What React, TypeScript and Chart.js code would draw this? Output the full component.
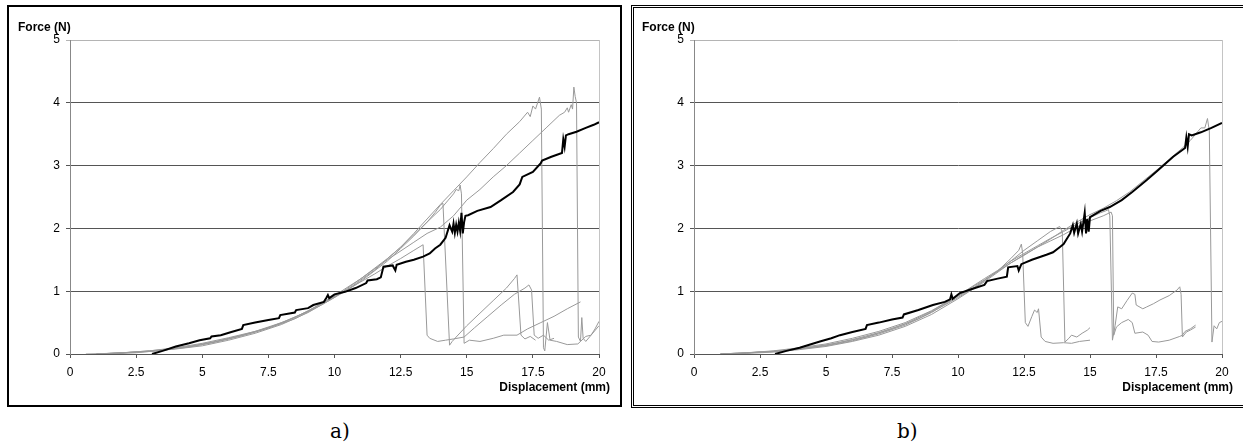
import React, { useEffect, useRef } from 'react';
import { Chart, registerables } from 'chart.js';

Chart.register(...registerables);

type Pt = [number, number];

// ---------- axis definitions ----------
const xMin = 0;
const xMax = 20;
const xStep = 2.5;
const yMin = 0;
const yMax = 5;
const yStep = 1;
const xTitle = 'Displacement (mm)';
const yTitle = 'Force (N)';

// ---------- panel a) ----------
const aBlack: Pt[] = [
  [3.1, 0], [3.5, 0.05], [4.0, 0.12], [4.5, 0.17], [4.9, 0.22], [5.3, 0.25], [5.35, 0.28], [5.7, 0.3],
  [6.1, 0.35], [6.5, 0.4], [6.55, 0.46], [7.0, 0.5], [7.5, 0.54], [7.9, 0.57], [7.95, 0.62], [8.5, 0.66],
  [8.55, 0.7], [9.0, 0.73], [9.2, 0.78], [9.6, 0.83], [9.7, 0.9], [9.75, 0.94], [9.8, 0.89], [10.0, 0.95],
  [10.4, 0.99], [10.8, 1.05], [11.2, 1.13], [11.25, 1.17], [11.6, 1.19], [11.75, 1.22], [11.85, 1.39],
  [12.2, 1.41], [12.3, 1.33], [12.35, 1.42], [12.7, 1.47], [13.0, 1.5], [13.35, 1.55], [13.6, 1.6],
  [13.8, 1.68], [14.0, 1.74], [14.2, 1.85], [14.35, 2.05], [14.45, 1.95], [14.5, 2.08], [14.55, 1.93],
  [14.6, 2.06], [14.65, 1.95], [14.7, 2.09], [14.75, 1.96], [14.8, 2.25], [14.85, 1.92], [14.9, 2.1],
  [14.95, 2.2], [15.05, 2.21], [15.4, 2.28], [15.9, 2.34], [16.3, 2.45], [16.75, 2.58], [17.0, 2.7],
  [17.1, 2.82], [17.5, 2.9], [17.8, 3.04], [17.85, 3.08], [18.2, 3.14], [18.6, 3.2], [18.65, 3.42],
  [18.7, 3.3], [18.75, 3.48], [18.85, 3.5], [19.15, 3.54], [19.5, 3.6], [19.8, 3.65], [20.0, 3.69],
];

const aGray1: Pt[] = [
  [1.0, 0], [2.0, 0.02], [3.0, 0.05], [4.0, 0.1], [5.0, 0.17], [6.0, 0.26], [7.0, 0.36], [8.0, 0.5],
  [9.0, 0.68], [10.0, 0.92], [10.5, 1.03], [11.0, 1.15], [11.5, 1.27], [12.0, 1.4], [12.5, 1.52],
  [13.0, 1.65], [13.35, 1.74], [13.5, 0.3], [13.6, 0.25], [13.9, 0.2], [14.2, 0.22], [14.5, 0.24],
  [14.9, 0.27], [15.3, 0.42], [15.8, 0.6], [16.3, 0.78], [16.8, 0.95], [17.2, 1.05], [17.35, 1.1],
  [17.45, 1.02], [17.55, 0.3], [17.7, 0.25], [17.9, 0.3], [18.1, 0.22], [18.3, 0.25],
];

const aGray2: Pt[] = [
  [1.5, 0], [2.5, 0.02], [3.5, 0.06], [4.5, 0.11], [5.5, 0.19], [6.5, 0.29], [7.5, 0.41], [8.5, 0.56],
  [9.5, 0.78], [10.5, 1.02], [11.0, 1.16], [11.5, 1.32], [12.0, 1.48], [12.5, 1.68], [13.0, 1.88],
  [13.5, 2.1], [13.8, 2.25], [14.0, 2.37], [14.1, 2.4], [14.35, 0.14], [14.45, 0.2], [14.6, 0.27],
  [15.0, 0.45], [15.5, 0.65], [16.0, 0.85], [16.5, 1.05], [16.8, 1.2], [16.9, 1.26], [17.05, 0.3],
  [17.2, 0.24], [17.4, 0.28], [17.6, 0.22],
];

const aGray3: Pt[] = [
  [1.0, 0], [2.0, 0.02], [3.0, 0.04], [4.0, 0.08], [5.0, 0.13], [6.0, 0.22], [7.0, 0.33], [8.0, 0.47],
  [9.0, 0.66], [10.0, 0.9], [11.0, 1.2], [12.0, 1.52], [12.5, 1.7], [13.0, 1.9], [13.5, 2.1],
  [14.0, 2.3], [14.3, 2.45], [14.5, 2.55], [14.6, 2.62], [14.7, 2.6], [14.75, 2.69], [14.8, 2.55],
  [14.9, 0.17], [15.1, 0.22], [15.5, 0.2], [16.0, 0.25], [16.4, 0.3], [16.9, 0.3], [17.3, 0.4],
  [17.8, 0.5], [18.3, 0.6], [18.8, 0.72], [19.3, 0.83],
];

const aGray4: Pt[] = [
  [0.6, 0], [1.5, 0.01], [2.5, 0.03], [3.5, 0.06], [4.5, 0.12], [5.5, 0.2], [6.5, 0.3], [7.5, 0.42],
  [8.5, 0.58], [9.5, 0.8], [10.5, 1.03], [11.5, 1.33], [12.5, 1.7], [13.0, 1.92], [13.5, 2.15],
  [14.0, 2.38], [14.5, 2.6], [15.0, 2.82], [15.5, 3.05], [16.0, 3.27], [16.5, 3.5], [17.0, 3.7],
  [17.3, 3.85], [17.4, 3.78], [17.5, 3.95], [17.6, 3.9], [17.75, 4.09], [17.82, 3.9], [17.9, 0.1],
  [17.95, 0.05], [18.05, 0.5], [18.15, 0.22], [18.4, 0.2], [18.8, 0.15], [19.2, 0.16], [19.3, 0.2],
  [19.35, 0.58], [19.4, 0.25], [19.5, 0.2], [19.8, 0.35], [20.0, 0.45],
];

const aGray5: Pt[] = [
  [1.0, 0], [2.0, 0.02], [3.0, 0.05], [4.0, 0.09], [5.0, 0.15], [6.0, 0.24], [7.0, 0.35], [8.0, 0.49],
  [9.0, 0.68], [10.0, 0.93], [11.0, 1.2], [12.0, 1.5], [13.0, 1.78], [13.5, 1.92], [14.0, 2.02],
  [14.5, 2.2], [15.0, 2.45], [15.5, 2.62], [16.0, 2.82], [16.5, 3.0], [17.0, 3.2], [17.5, 3.4],
  [18.0, 3.6], [18.5, 3.8], [18.7, 3.85], [18.8, 3.92], [18.85, 3.85], [18.95, 3.97], [19.0, 3.9],
  [19.05, 4.25], [19.1, 4.1], [19.15, 4.0], [19.22, 0.27], [19.3, 0.2], [19.5, 0.28], [19.7, 0.3],
  [19.85, 0.4], [20.0, 0.52],
];

// ---------- panel b) ----------
const bBlack: Pt[] = [
  [3.07, 0], [3.5, 0.05], [4.0, 0.1], [4.4, 0.15], [4.77, 0.2], [5.2, 0.25], [5.53, 0.3], [6.0, 0.35],
  [6.5, 0.4], [6.55, 0.46], [7.0, 0.5], [7.5, 0.55], [7.9, 0.58], [7.95, 0.63], [8.5, 0.7], [9.05, 0.78],
  [9.5, 0.83], [9.7, 0.87], [9.75, 0.95], [9.8, 0.88], [10.07, 0.97], [10.5, 1.03], [11.0, 1.1],
  [11.1, 1.16], [11.5, 1.2], [11.85, 1.23], [11.9, 1.38], [12.25, 1.4], [12.3, 1.33], [12.4, 1.43],
  [12.8, 1.5], [13.35, 1.58], [13.6, 1.62], [13.85, 1.7], [14.0, 1.75], [14.25, 1.92], [14.35, 2.05],
  [14.4, 1.93], [14.5, 2.08], [14.55, 1.92], [14.65, 2.07], [14.7, 1.95], [14.8, 2.25], [14.85, 1.92],
  [14.9, 2.15], [14.95, 1.95], [15.0, 2.18], [15.4, 2.28], [15.75, 2.34], [16.2, 2.45], [16.6, 2.58],
  [17.15, 2.77], [17.5, 2.9], [17.8, 3.01], [18.15, 3.14], [18.6, 3.28], [18.65, 3.45], [18.7, 3.3],
  [18.75, 3.5], [18.85, 3.48], [19.2, 3.53], [19.6, 3.6], [20.0, 3.68],
];

const bGray1: Pt[] = [
  [1.0, 0], [2.0, 0.02], [3.0, 0.04], [4.0, 0.08], [5.0, 0.13], [6.0, 0.21], [7.0, 0.32], [8.0, 0.46],
  [9.0, 0.66], [10.0, 0.92], [10.5, 1.03], [11.0, 1.17], [11.5, 1.32], [12.0, 1.52], [12.3, 1.65],
  [12.4, 1.75], [12.45, 1.6], [12.55, 0.5], [12.65, 0.44], [12.8, 0.6], [12.9, 0.7], [13.0, 0.66],
  [13.05, 0.72], [13.15, 0.27], [13.3, 0.2], [13.6, 0.17], [14.0, 0.18], [14.3, 0.17], [14.6, 0.2],
  [15.0, 0.22],
];

const bGray2: Pt[] = [
  [1.0, 0], [2.0, 0.02], [3.0, 0.05], [4.0, 0.1], [5.0, 0.16], [6.0, 0.25], [7.0, 0.36], [8.0, 0.5],
  [9.0, 0.69], [10.0, 0.93], [11.0, 1.2], [11.5, 1.33], [12.0, 1.48], [12.5, 1.65], [13.0, 1.8],
  [13.5, 1.95], [13.85, 2.03], [13.95, 1.95], [14.05, 0.19], [14.2, 0.25], [14.3, 0.3], [14.5, 0.27],
  [14.7, 0.33], [14.9, 0.38], [15.0, 0.42],
];

const bGray3: Pt[] = [
  [1.5, 0], [2.5, 0.03], [3.5, 0.06], [4.5, 0.11], [5.5, 0.18], [6.5, 0.27], [7.5, 0.4], [8.5, 0.56],
  [9.5, 0.78], [10.5, 1.02], [11.5, 1.32], [12.0, 1.48], [12.5, 1.6], [13.0, 1.72], [13.5, 1.84],
  [14.0, 1.95], [14.5, 2.07], [15.0, 2.17], [15.4, 2.25], [15.6, 2.28], [15.7, 2.3], [15.75, 2.2],
  [15.85, 0.22], [15.95, 0.45], [16.05, 0.75], [16.2, 0.72], [16.4, 0.85], [16.6, 0.97], [16.7, 0.95],
  [16.75, 0.78], [17.0, 0.72], [17.15, 0.75], [17.4, 0.8], [17.65, 0.86], [18.0, 0.93], [18.3, 1.02],
  [18.4, 1.07], [18.45, 0.95], [18.5, 0.27], [18.65, 0.35], [18.8, 0.38], [19.0, 0.43],
];

const bGray4: Pt[] = [
  [1.0, 0], [2.0, 0.01], [3.0, 0.03], [4.0, 0.07], [5.0, 0.12], [6.0, 0.2], [7.0, 0.3], [8.0, 0.44],
  [9.0, 0.63], [10.0, 0.88], [11.0, 1.15], [12.0, 1.45], [12.5, 1.58], [13.0, 1.7], [13.5, 1.8],
  [14.0, 1.9], [14.5, 2.02], [15.0, 2.12], [15.5, 2.2], [15.8, 2.26], [15.85, 2.2], [15.9, 0.3],
  [16.0, 0.43], [16.2, 0.5], [16.45, 0.55], [16.6, 0.5], [16.7, 0.33], [17.0, 0.35], [17.2, 0.3],
  [17.35, 0.2], [17.6, 0.19], [18.0, 0.22], [18.4, 0.28], [18.5, 0.3], [18.6, 0.36], [18.8, 0.4],
  [19.0, 0.46],
];

const bGray5: Pt[] = [
  [1.0, 0], [2.0, 0.02], [3.0, 0.04], [4.0, 0.09], [5.0, 0.14], [6.0, 0.23], [7.0, 0.34], [8.0, 0.48],
  [9.0, 0.68], [10.0, 0.93], [11.0, 1.18], [12.0, 1.45], [12.5, 1.57], [13.0, 1.7], [13.5, 1.83],
  [14.0, 1.97], [14.5, 2.1], [15.0, 2.22], [15.5, 2.32], [16.0, 2.44], [16.5, 2.58], [17.0, 2.75],
  [17.5, 2.92], [18.0, 3.1], [18.5, 3.28], [18.8, 3.4], [19.0, 3.5], [19.2, 3.6], [19.35, 3.6],
  [19.45, 3.75], [19.52, 3.55], [19.62, 0.19], [19.7, 0.45], [19.8, 0.4], [19.9, 0.5], [20.0, 0.52],
];

const panelA = { black: aBlack, grays: [aGray1, aGray2, aGray3, aGray4, aGray5] };
const panelB = { black: bBlack, grays: [bGray1, bGray2, bGray3, bGray4, bGray5] };

const FONT = "'Liberation Sans', Arial, sans-serif";

type PanelProps = {
  black: Pt[];
  grays: Pt[][];
  left: number;
  top: number;
  width: number;
  height: number;
  yAxisWidth: number;
  padTop: number;
  padRight: number;
  xAxisHeight: number;
};

function Panel(p: PanelProps) {
  const ref = useRef<HTMLCanvasElement | null>(null);
  useEffect(() => {
    if (!ref.current) return;
    const toXY = (arr: Pt[]) => arr.map(([x, y]) => ({ x, y }));
    const datasets: any[] = [
      {
        data: toXY(p.black),
        borderColor: '#000',
        borderWidth: 2,
        pointRadius: 0,
        tension: 0,
        order: 0,
      },
      ...p.grays.map((g) => ({
        data: toXY(g),
        borderColor: '#999999',
        borderWidth: 1,
        pointRadius: 0,
        tension: 0,
        order: 1,
      })),
    ];
    const decor = {
      id: 'decor',
      beforeDatasetsDraw(chart: any) {
        const { ctx, chartArea } = chart;
        ctx.save();
        ctx.strokeStyle = '#c4c4c4';
        ctx.lineWidth = 1;
        ctx.beginPath();
        ctx.moveTo(Math.round(chartArea.right) + 0.5, chartArea.top);
        ctx.lineTo(Math.round(chartArea.right) + 0.5, chartArea.bottom);
        ctx.stroke();
        ctx.restore();
      },
      afterDraw(chart: any) {
        const { ctx, chartArea } = chart;
        ctx.save();
        ctx.fillStyle = '#000';
        ctx.font = `bold 12px ${FONT}`;
        ctx.textBaseline = 'alphabetic';
        ctx.textAlign = 'left';
        ctx.fillText(yTitle, chartArea.left - 52, chartArea.top - 9);
        ctx.textAlign = 'right';
        ctx.fillText(xTitle, chartArea.right + 11, chartArea.bottom + 37);
        ctx.restore();
      },
    };
    const chart = new Chart(ref.current, {
      type: 'line',
      data: { datasets },
      options: {
        animation: false,
        responsive: false,
        devicePixelRatio: 1,
        layout: { padding: { top: p.padTop, right: p.padRight, left: 0, bottom: 0 } },
        plugins: { legend: { display: false }, tooltip: { enabled: false }, title: { display: false } },
        scales: {
          x: {
            type: 'linear',
            min: xMin,
            max: xMax,
            afterFit: (s: any) => {
              s.height = p.xAxisHeight;
            },
            ticks: {
              stepSize: xStep,
              color: '#000',
              font: { family: FONT, size: 12 },
              padding: 7,
              maxRotation: 0,
              autoSkip: false,
              callback: (v: any) => String(v),
            },
            grid: { drawOnChartArea: false, drawTicks: true, tickLength: 4, color: '#555' },
            border: { display: true, color: '#555' },
          },
          y: {
            type: 'linear',
            min: yMin,
            max: yMax,
            afterFit: (s: any) => {
              s.width = p.yAxisWidth;
            },
            ticks: {
              stepSize: yStep,
              color: '#000',
              font: { family: FONT, size: 12 },
              padding: 6,
              callback: (v: any) => String(v),
            },
            grid: {
              drawOnChartArea: true,
              drawTicks: true,
              tickLength: 4,
              color: (c: any) => (c.tick && c.tick.value === yMax ? '#b4b4b4' : '#555'),
            },
            border: { display: true, color: '#888' },
          },
        },
      },
      plugins: [decor],
    } as any);
    return () => chart.destroy();
  }, []);
  return (
    <canvas
      ref={ref}
      width={p.width}
      height={p.height}
      style={{ position: 'absolute', left: p.left, top: p.top, width: p.width, height: p.height }}
    />
  );
}

const captionStyle: React.CSSProperties = {
  position: 'absolute',
  top: 421,
  fontFamily: "'DejaVu Serif', 'Liberation Serif', serif",
  fontSize: 20,
  lineHeight: '20px',
  color: '#000',
  whiteSpace: 'nowrap',
};

export default function App() {
  return (
    <div
      style={{
        position: 'absolute',
        left: 0,
        top: 0,
        width: 1243,
        height: 447,
        overflow: 'hidden',
        background: '#fff',
      }}
    >
      <div
        style={{
          position: 'absolute',
          left: 7,
          top: 5,
          width: 615,
          height: 402,
          border: '2px solid #000',
          boxSizing: 'border-box',
        }}
      />
      <div
        style={{
          position: 'absolute',
          left: 631,
          top: 5,
          width: 640,
          height: 403,
          border: '3px double #000',
          boxSizing: 'border-box',
        }}
      />
      <Panel
        black={panelA.black}
        grays={panelA.grays}
        left={9}
        top={7}
        width={611}
        height={398}
        yAxisWidth={61}
        padTop={33}
        padRight={21}
        xAxisHeight={51}
      />
      <Panel
        black={panelB.black}
        grays={panelB.grays}
        left={634}
        top={8}
        width={609}
        height={397}
        yAxisWidth={60}
        padTop={32}
        padRight={21}
        xAxisHeight={51}
      />
      <div style={{ ...captionStyle, left: 330 }}>a)</div>
      <div style={{ ...captionStyle, left: 897 }}>b)</div>
    </div>
  );
}
